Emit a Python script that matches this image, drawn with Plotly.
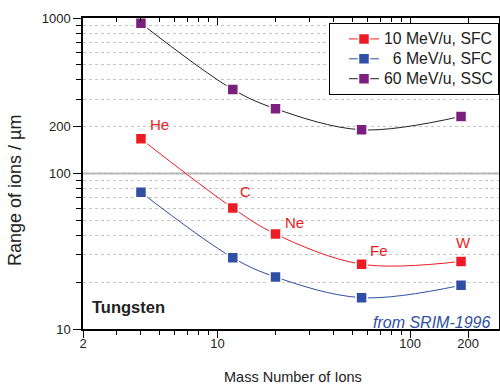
import numpy as np
import plotly.graph_objects as go

# ---- data ----
mass = [4, 12, 20, 56, 184]
ions = ["He", "C", "Ne", "Fe", "W"]
range_10_sfc = [167, 60, 40.8, 26.1, 27.2]
range_6_sfc = [75.7, 28.7, 21.6, 15.9, 19.1]
range_60_ssc = [924, 347, 261, 191, 233]

x_ticks = [2, 10, 100, 200]
x_minor = [3, 4, 5, 6, 7, 8, 9, 20, 30, 40, 50, 60, 70, 80, 90]
y_ticks = [10, 100, 200, 1000]
y_minor = [20, 30, 40, 50, 60, 70, 80, 90, 300, 400, 500, 600, 700, 800, 900]

# label offsets (pixels) for ion names
label_shift = {"He": (19, 14), "C": (13, 17), "Ne": (19, 12), "Fe": (17, 14), "W": (2, 19)}

RED = "#ED1C24"
BLUE = "#2E4FA3"
PURPLE = "#7B1F7E"
FONT = "Liberation Sans, Arial, sans-serif"
TXT = "#222222"

fig = go.Figure()

def legend_name(s):
    return "<span style='font-size:15.8px'>" + s + "</span>"

def add_series(y, name, line_color, marker_color):
    fig.add_trace(go.Scatter(
        x=mass, y=y, name=legend_name(name), mode="lines+markers",
        line=dict(color=line_color, width=1, shape="spline", smoothing=1),
        marker=dict(symbol="square", size=11, color=marker_color,
                    line=dict(color="white", width=1.5)),
    ))

add_series(range_10_sfc, "10 MeV/u, SFC", RED, RED)
add_series(range_6_sfc, "\u00a0\u00a06 MeV/u, SFC", BLUE, BLUE)
add_series(range_60_ssc, "60 MeV/u, SSC", "#222222", PURPLE)

# dummy trace to activate top axis
fig.add_trace(go.Scatter(x=[10], y=[100], xaxis="x2", yaxis="y", mode="markers",
                         marker=dict(opacity=0), showlegend=False, hoverinfo="skip"))

xr = [np.log10(2), 2.462]
common_x = dict(type="log", range=xr, showgrid=False, zeroline=False, automargin=False,
                tickmode="array", tickvals=x_ticks, ticktext=[str(v) for v in x_ticks],
                showline=True, linecolor="black", linewidth=1.5,
                ticklen=7, tickwidth=1, tickcolor="black",
                tickfont=dict(family=FONT, size=13, color=TXT))

fig.update_layout(
    width=500, height=385,
    margin=dict(l=83, r=1, t=18, b=56),
    paper_bgcolor="white", plot_bgcolor="white",
    font=dict(family=FONT, color=TXT),
    xaxis=dict(**common_x, ticks="outside", ticklabelstandoff=-5,
               minor=dict(tickmode="array", tickvals=x_minor, ticks="outside",
                          ticklen=4, tickcolor="black", showgrid=False)),
    xaxis2=dict(**common_x, overlaying="x", side="top", anchor="y", ticks="inside",
                showticklabels=False,
                minor=dict(tickmode="array", tickvals=x_minor, ticks="inside",
                           ticklen=4, tickcolor="black", showgrid=False)),
    yaxis=dict(type="log", range=[1, 3], zeroline=False, automargin=False,
               tickmode="array", tickvals=y_ticks, ticktext=[str(v) for v in y_ticks],
               showline=True, linecolor="black", linewidth=1.5, mirror="ticks",
               ticks="outside", ticklen=8, tickwidth=1, tickcolor="black",
               tickfont=dict(family=FONT, size=13, color=TXT),
               showgrid=True, gridcolor="#c4c4c4", griddash="dot", gridwidth=1,
               minor=dict(tickmode="array", tickvals=y_minor, ticks="outside",
                          ticklen=5, tickcolor="black", showgrid=True,
                          gridcolor="#c4c4c4", griddash="dot", gridwidth=1)),
    legend=dict(x=1.0, y=0.984, xanchor="right", yanchor="top",
                bgcolor="white", bordercolor="black", borderwidth=1,
                font=dict(family=FONT, size=13, color=TXT),
                indentation=14, tracegroupgap=0),
    showlegend=True,
)

fig.add_hline(y=100, line=dict(color="#b0b0b0", width=2), layer="below")

# ion labels
for m, r, name in zip(mass, range_10_sfc, ions):
    dx, dy = label_shift[name]
    fig.add_annotation(x=np.log10(m), y=np.log10(r), xref="x", yref="y",
                       text=name, showarrow=False, xshift=dx, yshift=dy,
                       font=dict(family=FONT, size=15, color=RED))

fig.add_annotation(x=0.0168, y=0.0717, xref="paper", yref="paper",
                   xanchor="left", yanchor="middle", showarrow=False,
                   text="<b>Tungsten</b>", font=dict(family=FONT, size=16.5, color=TXT))
fig.add_annotation(x=0.9825, y=0.0225, xref="paper", yref="paper",
                   xanchor="right", yanchor="middle", showarrow=False,
                   text="<i>from SRIM-1996</i>", font=dict(family=FONT, size=16, color=BLUE))

# axis titles
fig.add_annotation(x=0.506, y=-0.154, xref="paper", yref="paper",
                   xanchor="center", yanchor="middle", showarrow=False,
                   text="Mass Number of Ions", font=dict(family=FONT, size=14.5, color=TXT))
fig.add_annotation(x=-0.1635, y=0.447, xref="paper", yref="paper",
                   xanchor="center", yanchor="middle", showarrow=False, textangle=-90,
                   text="Range of ions / \u00b5m", font=dict(family=FONT, size=18, color=TXT))

fig.write_html("out.html", config={"displayModeBar": False},
               post_script="document.body.style.margin='0';")
